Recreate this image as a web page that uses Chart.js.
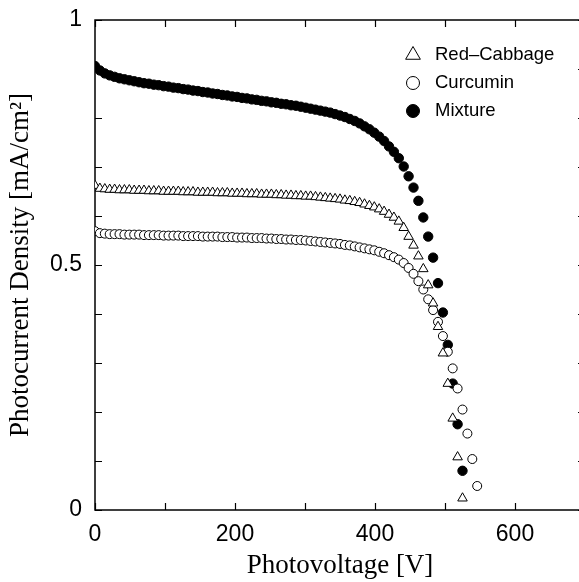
<!DOCTYPE html>
<html>
<head>
<meta charset="utf-8">
<title>Photocurrent density vs photovoltage</title>
<script src="https://cdn.jsdelivr.net/npm/chart.js@4.4.1/dist/chart.umd.min.js"></script>
<style>
  html, body { margin: 0; padding: 0; background: #fff; overflow: hidden; }
</style>
</head>
<body>
<canvas id="jvChart" width="600" height="582"></canvas>
<script>
// Photovoltage steps [V], shared by all cells
const voltage = [
  0, 7, 14, 21, 28, 35, 42, 49, 56, 63,
  70, 77, 84, 91, 98, 105, 112, 119, 126, 133,
  140, 147, 154, 161, 168, 175, 182, 189, 196, 203,
  210, 217, 224, 231, 238, 245, 252, 259, 266, 273,
  280, 287, 294, 301, 308, 315, 322, 329, 336, 343,
  350, 357, 364, 371, 378, 385, 392, 399, 406, 413,
  420, 427, 434, 441, 448, 455, 462, 469, 476, 483,
  490, 497, 504, 511, 518, 525, 532, 539, 546
];

// Photocurrent density [mA/cm2] per dye
const redCabbage = [
  0.662, 0.656, 0.655, 0.654, 0.654, 0.653, 0.653, 0.653, 0.652, 0.652,
  0.652, 0.651, 0.651, 0.651, 0.650, 0.650, 0.650, 0.650, 0.649, 0.649,
  0.649, 0.648, 0.648, 0.648, 0.648, 0.647, 0.647, 0.647, 0.646, 0.646,
  0.646, 0.645, 0.645, 0.645, 0.644, 0.644, 0.644, 0.643, 0.643, 0.642,
  0.642, 0.641, 0.641, 0.640, 0.640, 0.639, 0.638, 0.637, 0.636, 0.635,
  0.634, 0.632, 0.631, 0.629, 0.627, 0.624, 0.621, 0.618, 0.614, 0.609,
  0.603, 0.597, 0.589, 0.576, 0.558, 0.540, 0.518, 0.492, 0.459, 0.422,
  0.374, 0.320, 0.258, 0.187, 0.108, 0.024
];

const curcumin = [
  0.569, 0.565, 0.564, 0.563, 0.563, 0.563, 0.562, 0.562, 0.562, 0.562,
  0.561, 0.561, 0.561, 0.561, 0.560, 0.560, 0.560, 0.560, 0.559, 0.559,
  0.559, 0.559, 0.558, 0.558, 0.558, 0.558, 0.557, 0.557, 0.557, 0.556,
  0.556, 0.556, 0.555, 0.555, 0.555, 0.554, 0.554, 0.553, 0.553, 0.552,
  0.552, 0.551, 0.551, 0.550, 0.549, 0.548, 0.547, 0.546, 0.545, 0.544,
  0.543, 0.541, 0.540, 0.538, 0.536, 0.534, 0.532, 0.530, 0.527, 0.524,
  0.520, 0.516, 0.511, 0.504, 0.494, 0.482, 0.467, 0.450, 0.430, 0.408,
  0.384, 0.355, 0.323, 0.289, 0.248, 0.205, 0.156, 0.104, 0.049
];

const mixture = [
  0.906, 0.897, 0.891, 0.887, 0.884, 0.881, 0.879, 0.877, 0.875, 0.873,
  0.871, 0.870, 0.868, 0.867, 0.865, 0.864, 0.862, 0.861, 0.859, 0.858,
  0.856, 0.855, 0.853, 0.852, 0.850, 0.849, 0.847, 0.846, 0.844, 0.843,
  0.841, 0.840, 0.838, 0.837, 0.835, 0.834, 0.832, 0.831, 0.829, 0.828,
  0.826, 0.825, 0.823, 0.821, 0.819, 0.817, 0.815, 0.813, 0.811, 0.808,
  0.805, 0.802, 0.798, 0.794, 0.789, 0.783, 0.777, 0.770, 0.762, 0.753,
  0.742, 0.731, 0.718, 0.701, 0.681, 0.658, 0.631, 0.597, 0.558, 0.515,
  0.463, 0.403, 0.337, 0.258, 0.175, 0.080
];

// labelled ticks; the others are drawn as plain marks
const xTickLabels = [0, 200, 400, 600];
const yTickLabels = [0, 0.5, 1];

const toPoints = (ys) => ys.map((y, i) => ({ x: voltage[i], y: y }));

const sansFont = '"Liberation Sans", Arial, sans-serif';
const serifFont = '"Liberation Serif", "Times New Roman", serif';

// box around the plot with short inward ticks on every side
const framePlugin = {
  id: "frame",
  beforeDatasetsDraw(chart) {
    const { ctx, chartArea: a, scales } = chart;
    const len = 7;
    ctx.save();
    ctx.strokeStyle = "#000";
    ctx.lineWidth = 1.5;
    ctx.strokeRect(a.left, a.top, a.right - a.left, a.bottom - a.top);
    ctx.lineWidth = 1.2;
    ctx.beginPath();
    scales.x.ticks.forEach((t) => {
      const px = Math.round(scales.x.getPixelForValue(t.value)) + 0.5;
      ctx.moveTo(px, a.bottom);
      ctx.lineTo(px, a.bottom - len);
      ctx.moveTo(px, a.top);
      ctx.lineTo(px, a.top + len);
    });
    scales.y.ticks.forEach((t) => {
      const py = Math.round(scales.y.getPixelForValue(t.value)) + 0.5;
      ctx.moveTo(a.left, py);
      ctx.lineTo(a.left + len, py);
      ctx.moveTo(a.right, py);
      ctx.lineTo(a.right - len, py);
    });
    ctx.stroke();
    ctx.restore();
  }
};

// marker legend in the upper right corner of the plot
const legendPlugin = {
  id: "markerLegend",
  afterDatasetsDraw(chart) {
    const { ctx, chartArea: a } = chart;
    const x0 = a.right - 172;
    const y0 = a.top + 35;
    ctx.save();
    ctx.font = "18.5px " + sansFont;
    ctx.textBaseline = "middle";
    chart.data.datasets.forEach((ds, i) => {
      const y = y0 + i * 28;
      ctx.fillStyle = ds.backgroundColor;
      ctx.strokeStyle = ds.borderColor;
      ctx.lineWidth = 1;
      Chart.helpers.drawPoint(ctx, {
        pointStyle: ds.pointStyle,
        radius: ds.pointStyle === "triangle" ? 8.5 : 6.5,
        rotation: 0,
        borderWidth: 1
      }, x0, y);
      ctx.fillStyle = "#000";
      ctx.fillText(ds.label, x0 + 22, y);
    });
    ctx.restore();
  }
};

new Chart(document.getElementById("jvChart"), {
  type: "scatter",
  data: {
    datasets: [
      {
        label: "Red–Cabbage",
        data: toPoints(redCabbage),
        pointStyle: "triangle",
        pointRadius: 5.5,
        backgroundColor: "#fff",
        borderColor: "#000",
        borderWidth: 1
      },
      {
        label: "Curcumin",
        data: toPoints(curcumin),
        pointStyle: "circle",
        pointRadius: 4.5,
        backgroundColor: "#fff",
        borderColor: "#000",
        borderWidth: 1
      },
      {
        label: "Mixture",
        data: toPoints(mixture),
        pointStyle: "circle",
        pointRadius: 4.7,
        backgroundColor: "#000",
        borderColor: "#000",
        borderWidth: 1
      }
    ]
  },
  options: {
    responsive: false,
    animation: false,
    events: [],
    layout: { padding: { top: 20, right: 15, left: 0, bottom: 0 } },
    plugins: {
      legend: { display: false },
      tooltip: { enabled: false }
    },
    scales: {
      x: {
        type: "linear",
        min: 0,
        max: 700,
        grid: { display: false },
        border: { display: false },
        ticks: {
          stepSize: 100,
          autoSkip: false,
          maxRotation: 0,
          padding: 3,
          color: "#000",
          font: { family: sansFont, size: 23 },
          callback: (v) => (xTickLabels.includes(v) ? String(v) : "")
        },
        title: {
          display: true,
          text: "Photovoltage [V]",
          color: "#000",
          font: { family: serifFont, size: 27 },
          padding: 0
        },
        afterFit: (scale) => { scale.height = 72; }
      },
      y: {
        type: "linear",
        min: 0,
        max: 1,
        grid: { display: false },
        border: { display: false },
        ticks: {
          stepSize: 0.1,
          autoSkip: false,
          padding: 5,
          color: "#000",
          font: { family: sansFont, size: 23 },
          callback: (v) =>
            yTickLabels.some((t) => Math.abs(t - v) < 1e-6) ? String(+v.toFixed(1)) : ""
        },
        title: {
          display: true,
          text: "Photocurrent Density [mA/cm²]",
          color: "#000",
          font: { family: serifFont, size: 27 },
          padding: { top: 5, bottom: 0 }
        },
        afterFit: (scale) => { scale.width = 95; }
      }
    }
  },
  plugins: [framePlugin, legendPlugin]
});
</script>
</body>
</html>
